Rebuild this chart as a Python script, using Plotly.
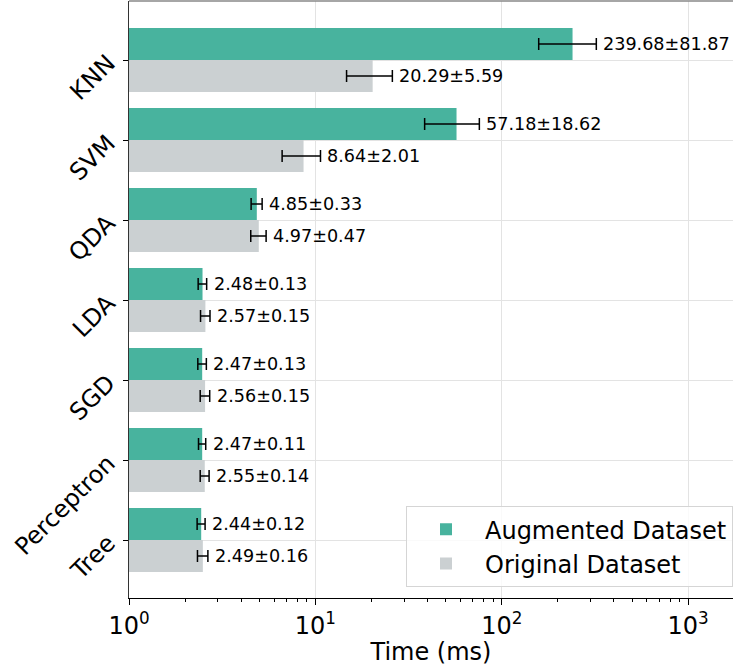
import math
import plotly.graph_objects as go

categories = ["KNN", "SVM", "QDA", "LDA", "SGD", "Perceptron", "Tree"]
aug_mean = [239.68, 57.18, 4.85, 2.48, 2.47, 2.47, 2.44]
aug_std = [81.87, 18.62, 0.33, 0.13, 0.13, 0.11, 0.12]
orig_mean = [20.29, 8.64, 4.97, 2.57, 2.56, 2.55, 2.49]
orig_std = [5.59, 2.01, 0.47, 0.15, 0.15, 0.14, 0.16]
x_tickvals = [1, 10, 100, 1000]
x_ticktext = ["10<sup>0</sup>", "10<sup>1</sup>", "10<sup>2</sup>", "10<sup>3</sup>"]

AUG_COLOR = "#48b39e"
ORIG_COLOR = "#cbd0d2"
FONT = "DejaVu Sans"

n = len(categories)
pos = [n - 1 - i for i in range(n)]

fig = go.Figure()
fig.add_trace(go.Bar(
    y=pos, x=orig_mean, orientation="h", name="Original Dataset",
    marker=dict(color=ORIG_COLOR, line=dict(width=0)),
    error_x=dict(type="data", array=orig_std, visible=True, color="black", thickness=1.5, width=6),
    legendrank=2,
))
fig.add_trace(go.Bar(
    y=pos, x=aug_mean, orientation="h", name="Augmented Dataset",
    marker=dict(color=AUG_COLOR, line=dict(width=0)),
    error_x=dict(type="data", array=aug_std, visible=True, color="black", thickness=1.5, width=6),
    legendrank=1,
))

for p, m, s in zip(pos, aug_mean, aug_std):
    fig.add_annotation(x=math.log10(m + s), y=p + 0.2, text=f"{m:.2f}±{s:.2f}",
                       xanchor="left", yanchor="middle", xshift=5, showarrow=False,
                       font=dict(family=FONT, size=17.6, color="black"))
for p, m, s in zip(pos, orig_mean, orig_std):
    fig.add_annotation(x=math.log10(m + s), y=p - 0.2, text=f"{m:.2f}±{s:.2f}",
                       xanchor="left", yanchor="middle", xshift=5, showarrow=False,
                       font=dict(family=FONT, size=17.6, color="black"))

minor_vals = [k * 10 ** d for d in range(0, 4) for k in range(2, 10)]

fig.update_layout(
    width=733, height=666,
    margin=dict(l=129, r=0, t=1, b=68),
    plot_bgcolor="white", paper_bgcolor="white",
    barmode="group", bargap=0.2, bargroupgap=0,
    font=dict(family=FONT, color="black"),
    showlegend=True,
    legend=dict(x=1, xanchor="right", y=0.018, yanchor="bottom",
                font=dict(family=FONT, size=24, color="black"),
                bordercolor="#d5d5d5", borderwidth=1, bgcolor="rgba(255,255,255,0.8)",
                itemwidth=68),
    xaxis=dict(
        type="log", range=[0, math.log10(1740)],
        tickvals=x_tickvals, ticktext=x_ticktext,
        tickfont=dict(family=FONT, size=24, color="black"),
        ticks="outside", ticklen=6, tickcolor="black",
        showgrid=True, gridcolor="#e3e3e3", gridwidth=1,
        showline=True, linecolor="black", linewidth=1.2,
        minor=dict(tickvals=minor_vals, ticks="outside", ticklen=3, tickcolor="black", showgrid=False),
        title=dict(text="Time (ms)", font=dict(family=FONT, size=24, color="black"), standoff=0),
        zeroline=False,
    ),
    yaxis=dict(
        tickvals=pos, ticktext=categories, tickangle=-45,
        range=[-0.725, n - 1 + 0.7375],
        tickfont=dict(family=FONT, size=24, color="black"),
        ticks="outside", ticklen=5, tickcolor="black", ticklabelstandoff=10,
        showgrid=True, gridcolor="#e3e3e3", gridwidth=1,
        showline=True, linecolor="#333333", linewidth=1.2,
        zeroline=False,
    ),
)
fig.add_shape(type="line", xref="paper", yref="paper", x0=0, x1=1, y0=1, y1=1,
              line=dict(color="#888888", width=1.5))

fig.write_html("out.html", config={"displayModeBar": False},
               post_script="document.body.style.margin='0';document.body.style.overflow='hidden';")
